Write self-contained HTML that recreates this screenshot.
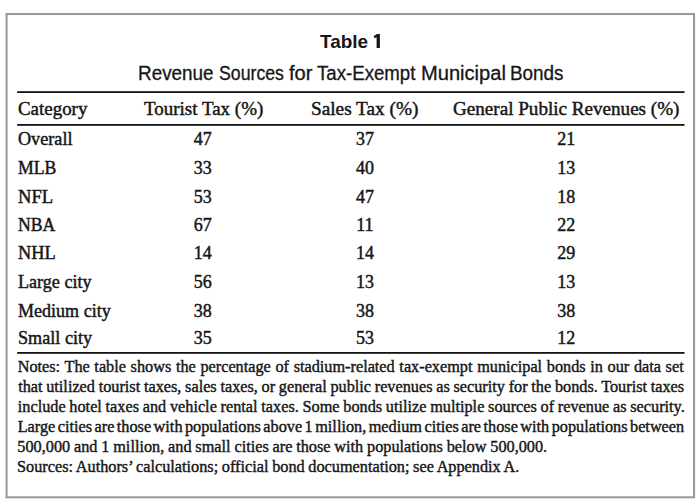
<!DOCTYPE html>
<html><head><meta charset="utf-8"><title>Table 1</title>
<style>
html,body{margin:0;padding:0;background:#fff;}
body{width:700px;height:504px;position:relative;overflow:hidden;font-family:"Liberation Serif",serif;color:#161616;}
.t{position:absolute;white-space:nowrap;transform-origin:0 50%;-webkit-text-stroke:0.45px #161616;}
.s{font-family:"Liberation Sans",sans-serif;}
.b{font-weight:bold;}
</style></head><body>
<svg style="position:absolute;left:0;top:0" width="700" height="504" viewBox="0 0 700 504">
<rect x="6.55" y="14.0" width="687.5" height="483.3" fill="none" stroke="#9a9a9a" stroke-width="2.1"/>
<rect x="17.2" y="91.2" width="667.3" height="1.8" fill="#141414"/>
<rect x="17.2" y="124.0" width="667.3" height="1.8" fill="#141414"/>
<rect x="17.2" y="352.0" width="667.3" height="1.8" fill="#141414"/>
</svg>
<div id="title0" class="t s b" style="left:320.14px;top:31px;font-size:19.0px;line-height:21px;transform:scaleX(0.9934);-webkit-text-stroke:0;">Table</div>
<div id="sub0" class="t s" style="left:137.57px;top:62px;font-size:19.4px;line-height:22px;transform:scaleX(0.9743);-webkit-text-stroke-width:0.3px;">Revenue</div>
<div id="sub1" class="t s" style="left:219.13px;top:62px;font-size:19.4px;line-height:22px;transform:scaleX(0.9125);-webkit-text-stroke-width:0.3px;">Sources</div>
<div id="sub2" class="t s" style="left:289.05px;top:62px;font-size:19.4px;line-height:22px;transform:scaleX(1.0370);-webkit-text-stroke-width:0.3px;">for</div>
<div id="sub3" class="t s" style="left:316.55px;top:62px;font-size:19.4px;line-height:22px;transform:scaleX(0.9613);-webkit-text-stroke-width:0.3px;">Tax-Exempt</div>
<div id="sub4" class="t s" style="left:420.87px;top:62px;font-size:19.4px;line-height:22px;transform:scaleX(1.0364);-webkit-text-stroke-width:0.3px;">Municipal</div>
<div id="sub5" class="t s" style="left:510.25px;top:62px;font-size:19.4px;line-height:22px;transform:scaleX(0.9738);-webkit-text-stroke-width:0.3px;">Bonds</div>
<div id="h0" class="t" style="left:18.24px;top:98px;font-size:18.6px;line-height:21px;transform:scaleX(1.0176);">Category</div>
<div id="h1" class="t" style="left:143.54px;top:98px;font-size:18.6px;line-height:21px;transform:scaleX(1.0205);">Tourist Tax (%)</div>
<div id="h2" class="t" style="left:311.09px;top:98px;font-size:18.6px;line-height:21px;transform:scaleX(1.0357);">Sales Tax (%)</div>
<div id="h3" class="t" style="left:453.43px;top:98px;font-size:18.6px;line-height:21px;transform:scaleX(1.0272);">General Public Revenues (%)</div>
<div id="r0a" class="t" style="left:17.90px;top:129px;font-size:18.0px;line-height:20px;transform:scaleX(1.0093);">Overall</div>
<div id="r0b" class="t" style="left:193.80px;top:129px;font-size:18.0px;line-height:20px;">47</div>
<div id="r0c" class="t" style="left:355.90px;top:129px;font-size:18.0px;line-height:20px;">37</div>
<div id="r0d" class="t" style="left:557.20px;top:129px;font-size:18.0px;line-height:20px;">21</div>
<div id="r1a" class="t" style="left:17.66px;top:158px;font-size:18.0px;line-height:20px;transform:scaleX(0.9821);">MLB</div>
<div id="r1b" class="t" style="left:193.80px;top:158px;font-size:18.0px;line-height:20px;">33</div>
<div id="r1c" class="t" style="left:355.90px;top:158px;font-size:18.0px;line-height:20px;">40</div>
<div id="r1d" class="t" style="left:557.20px;top:158px;font-size:18.0px;line-height:20px;">13</div>
<div id="r2a" class="t" style="left:17.64px;top:187px;font-size:18.0px;line-height:20px;transform:scaleX(1.0310);">NFL</div>
<div id="r2b" class="t" style="left:193.80px;top:187px;font-size:18.0px;line-height:20px;">53</div>
<div id="r2c" class="t" style="left:355.90px;top:187px;font-size:18.0px;line-height:20px;">47</div>
<div id="r2d" class="t" style="left:557.20px;top:187px;font-size:18.0px;line-height:20px;">18</div>
<div id="r3a" class="t" style="left:17.66px;top:215px;font-size:18.0px;line-height:20px;transform:scaleX(0.9818);">NBA</div>
<div id="r3b" class="t" style="left:193.80px;top:215px;font-size:18.0px;line-height:20px;">67</div>
<div id="r3c" class="t" style="left:356.23px;top:215px;font-size:18.0px;line-height:20px;">11</div>
<div id="r3d" class="t" style="left:557.20px;top:215px;font-size:18.0px;line-height:20px;">22</div>
<div id="r4a" class="t" style="left:17.64px;top:243px;font-size:18.0px;line-height:20px;transform:scaleX(1.0191);">NHL</div>
<div id="r4b" class="t" style="left:193.80px;top:243px;font-size:18.0px;line-height:20px;">14</div>
<div id="r4c" class="t" style="left:355.90px;top:243px;font-size:18.0px;line-height:20px;">14</div>
<div id="r4d" class="t" style="left:557.20px;top:243px;font-size:18.0px;line-height:20px;">29</div>
<div id="r5a" class="t" style="left:17.66px;top:272px;font-size:18.0px;line-height:20px;transform:scaleX(1.0054);">Large city</div>
<div id="r5b" class="t" style="left:193.80px;top:272px;font-size:18.0px;line-height:20px;">56</div>
<div id="r5c" class="t" style="left:355.90px;top:272px;font-size:18.0px;line-height:20px;">13</div>
<div id="r5d" class="t" style="left:557.20px;top:272px;font-size:18.0px;line-height:20px;">13</div>
<div id="r6a" class="t" style="left:17.66px;top:301px;font-size:18.0px;line-height:20px;transform:scaleX(1.0024);">Medium city</div>
<div id="r6b" class="t" style="left:193.80px;top:301px;font-size:18.0px;line-height:20px;">38</div>
<div id="r6c" class="t" style="left:355.90px;top:301px;font-size:18.0px;line-height:20px;">38</div>
<div id="r6d" class="t" style="left:557.20px;top:301px;font-size:18.0px;line-height:20px;">38</div>
<div id="r7a" class="t" style="left:17.72px;top:328px;font-size:18.0px;line-height:20px;transform:scaleX(1.0082);">Small city</div>
<div id="r7b" class="t" style="left:193.80px;top:328px;font-size:18.0px;line-height:20px;">35</div>
<div id="r7c" class="t" style="left:355.90px;top:328px;font-size:18.0px;line-height:20px;">53</div>
<div id="r7d" class="t" style="left:557.20px;top:328px;font-size:18.0px;line-height:20px;">12</div>
<div id="n0" class="t" style="left:17.66px;top:358px;font-size:16.25px;line-height:18px;word-spacing:0.598px;-webkit-text-stroke-width:0.4px;">Notes: The table shows the percentage of stadium-related tax-exempt municipal bonds in our data set</div>
<div id="n1" class="t" style="left:18.13px;top:378px;font-size:16.25px;line-height:18px;word-spacing:-0.338px;-webkit-text-stroke-width:0.4px;">that utilized tourist taxes, sales taxes, or general public revenues as security for the bonds. Tourist taxes</div>
<div id="n2" class="t" style="left:17.80px;top:398px;font-size:16.25px;line-height:18px;word-spacing:-0.322px;-webkit-text-stroke-width:0.4px;">include hotel taxes and vehicle rental taxes. Some bonds utilize multiple sources of revenue as security.</div>
<div id="n3" class="t" style="left:17.66px;top:418px;font-size:16.25px;line-height:18px;word-spacing:-1.577px;-webkit-text-stroke-width:0.4px;">Large cities are those with populations above 1 million, medium cities are those with populations between</div>
<div id="n4" class="t" style="left:17.34px;top:438px;font-size:16.25px;line-height:18px;word-spacing:-0.228px;-webkit-text-stroke-width:0.4px;">500,000 and 1 million, and small cities are those with populations below 500,000.</div>
<div id="n5" class="t" style="left:17.09px;top:458px;font-size:16.25px;line-height:18px;word-spacing:-0.386px;-webkit-text-stroke-width:0.4px;">Sources: Authors’ calculations; official bond documentation; see Appendix A.</div>
<svg style="position:absolute;left:370px;top:30px" width="14" height="20" viewBox="370 30 14 20"><path d="M377.0 34.1 H379.9 V48.1 H376.6 V37.3 L374.3 38.3 L373.8 36.1 Z" fill="#161616"/></svg>
</body></html>
